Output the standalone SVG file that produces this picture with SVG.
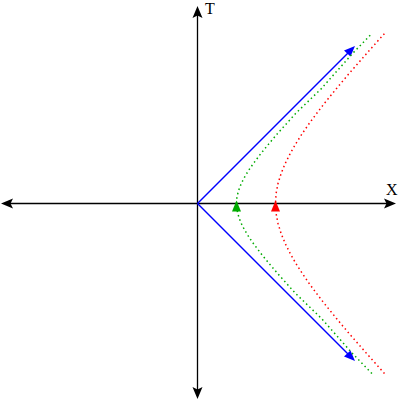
<svg xmlns="http://www.w3.org/2000/svg" width="400" height="400" viewBox="0 0 400 400">
<style>
.axis{stroke:#000;stroke-width:1.3;fill:none}
.head{fill:#000}
.lbl{font-family:"Liberation Serif","DejaVu Serif",serif;font-size:16px;fill:#000}
.light{stroke:#0000ff;stroke-width:1.5;fill:none}
.hyp{fill:none;stroke-width:1.5;stroke-dasharray:1.5 3}
</style>
<rect width="400" height="400" fill="#fff"/>
<g id="axes">
<line class="axis" x1="10" y1="203.5" x2="388" y2="203.5"/>
<line class="axis" x1="197.5" y1="15" x2="197.5" y2="390"/>
<path class="head" d="M396,203.5 L384,198.5 L386.5,203.5 L384,208.5 Z"/>
<path class="head" d="M1,203.5 L13,198.5 L10.5,203.5 L13,208.5 Z"/>
<path class="head" d="M197.5,6 L192.5,18 L197.5,15.5 L202.5,18 Z"/>
<path class="head" d="M197.5,399 L192.5,387 L197.5,389.5 L202.5,387 Z"/>
<text class="lbl" x="205" y="14">T</text>
<text class="lbl" x="386" y="195">X</text>
</g>
<g id="curves" transform="translate(197.5,203.5)">
<g id="light-cone">
<line class="light" x1="0" y1="0" x2="151" y2="-151"/>
<line class="light" x1="0" y1="0" x2="151" y2="151"/>
<path fill="#0000ff" d="M157.5,-157.5 L146.5,-153 L153,-147 Z"/>
<path fill="#0000ff" d="M157.5,157.5 L146.5,153 L153,147 Z"/>
</g>
<g id="green-hyperbola">
<polyline class="hyp" stroke="#00aa00" points="174.4,170 155,150 124,115 98.1,90 80.1,70 71.6,60 63.4,50 55.9,40 52.4,35 49.2,30 46.3,25 43.8,20 41.8,15 40.3,10 39.3,5 39,0 39.3,-5 40.3,-10 41.8,-15 43.8,-20 46.3,-25 49.2,-30 52.4,-35 55.9,-40 63.4,-50 71.6,-60 80.1,-70 98.1,-90 124,-115 155,-150 174.4,-170"/>
<path fill="#00aa00" d="M39,-3 L34.5,8 L43.5,8 Z"/>
</g>
<g id="red-hyperbola">
<polyline class="hyp" stroke="#ff0000" points="187,170 169.1,150 151.6,130 139,115 126.8,100 119.1,90 111.7,80 104.8,70 98.4,60 92.7,50 87.7,40 83.6,30 80.5,20 78.6,10 78,0 78.6,-10 80.5,-20 83.6,-30 87.7,-40 92.7,-50 98.4,-60 104.8,-70 111.7,-80 119.1,-90 126.8,-100 139,-115 151.6,-130 169.1,-150 187,-170"/>
<path fill="#ff0000" d="M78,-3 L73.5,8 L82.5,8 Z"/>
</g>
</g>
</svg>
